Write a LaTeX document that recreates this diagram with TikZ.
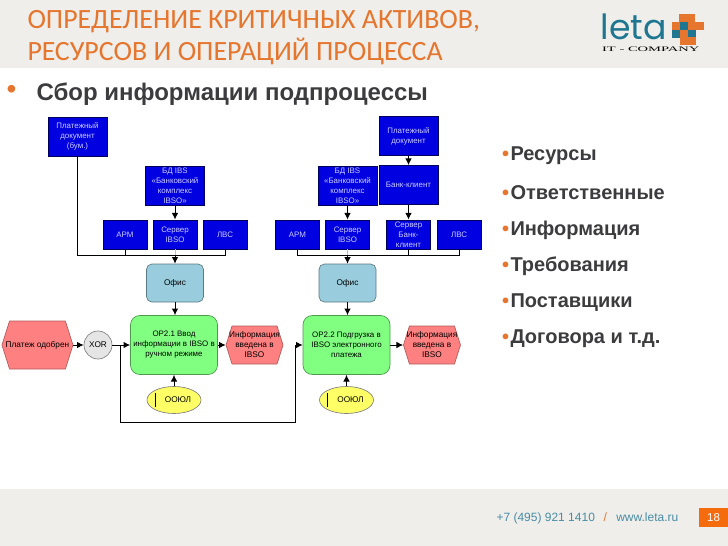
\documentclass[tikz,border=0pt]{standalone}
\usepackage{fontspec}
\setmainfont{Liberation Sans}
\newfontfamily\titlefont{Carlito}
\newfontfamily\logofont{Poppins}
\newfontfamily\tagfont{Liberation Serif}
\usepackage{xcolor}
\usetikzlibrary{arrows.meta}
\usetikzlibrary{shapes.geometric}
\usetikzlibrary{shapes.symbols}
\usetikzlibrary{positioning}
\definecolor{bandgray}{RGB}{239,238,234}
\definecolor{titleorange}{RGB}{230,117,45}
\definecolor{darktext}{RGB}{60,60,62}
\definecolor{letateal}{RGB}{30,118,145}
\definecolor{foottext}{RGB}{72,140,165}
\definecolor{pageorange}{RGB}{245,108,15}
\definecolor{blockblue}{RGB}{0,0,225}
\definecolor{blockline}{RGB}{0,0,90}
\definecolor{blocktext}{RGB}{205,205,255}
\definecolor{sitefill}{RGB}{153,204,221}
\definecolor{funcfill}{RGB}{128,255,128}
\definecolor{evtfill}{RGB}{255,128,128}
\definecolor{rolefill}{RGB}{255,255,102}
\newcommand{\dgfont}{\fontsize{6.2}{7.5}\selectfont}
\newcommand{\boxfont}{\fontsize{5.95}{7.5}\selectfont}
\newcommand{\itemdot}{\textcolor{titleorange}{•}\kern 1.1pt}

\begin{document}
\begin{tikzpicture}[x=0.75pt, y=-0.75pt, thick]
    % Define styles
    \tikzstyle{block} = [rectangle, draw=blockline, fill=blockblue, text=blocktext, font=\boxfont, align=center, inner sep=0pt, line width=0.6pt]
    \tikzstyle{docbox} = [block, minimum width=44.25pt, minimum height=29.25pt]
    \tikzstyle{itbox} = [block, minimum width=33pt, minimum height=21.75pt]
    \tikzstyle{site} = [rectangle, rounded corners=4pt, draw=sitefill!60!black, fill=sitefill, font=\dgfont, align=center, minimum width=42.75pt, minimum height=28.5pt, inner sep=0pt, line width=0.5pt]
    \tikzstyle{func} = [rectangle, rounded corners=7pt, draw=funcfill!60!black, fill=funcfill, font=\boxfont, align=center, minimum width=65.25pt, minimum height=44.25pt, inner sep=0pt, line width=0.5pt]
    \tikzstyle{evt} = [signal, signal to=west and east, signal pointer angle=145, draw=evtfill!70!black, fill=evtfill, inner sep=0pt, line width=0.5pt]
    \tikzstyle{evttext} = [font=\dgfont, align=center, inner sep=0pt]
    \tikzstyle{gate} = [circle, draw=gray, fill=black!10, font=\dgfont, minimum size=21pt, inner sep=0pt, line width=0.5pt]
    \tikzstyle{role} = [ellipse, draw=gray, fill=rolefill, font=\dgfont, minimum width=40.5pt, minimum height=20.25pt, inner sep=0pt, line width=0.5pt]
    \tikzstyle{line} = [draw, line width=0.75pt, -{Latex[length=5pt,width=5pt]}]
    \tikzstyle{wire} = [draw, line width=0.75pt]
    \tikzstyle{listitem} = [anchor=west, font=\fontsize{15}{18}\selectfont\bfseries, text=darktext, inner sep=0pt]

    \useasboundingbox (0,0) rectangle (728,546);

    % Header and footer
    \fill[bandgray] (0,0) rectangle (728,68);
    \fill[bandgray] (0,489) rectangle (728,546);
    \node [anchor=west, inner sep=0pt, text=titleorange, font=\titlefont\fontsize{20.9}{24}\selectfont, align=left] (title) at (27,38) {ОПРЕДЕЛЕНИЕ КРИТИЧНЫХ АКТИВОВ,\\РЕСУРСОВ И ОПЕРАЦИЙ ПРОЦЕССА};
    \node [anchor=west, inner sep=0pt, text=titleorange, font=\fontsize{21}{24}\selectfont] (dot) at (6,92) {•};
    \node [anchor=west, inner sep=0pt, text=darktext, font=\fontsize{18}{20}\selectfont\bfseries] (head) at (36,94) {Сбор информации подпроцессы};

    % Logo
    \node [anchor=west, inner sep=0pt, text=letateal, font=\logofont\fontsize{26}{26}\selectfont] (leta) at (600,27) {leta};
    \node [anchor=west, inner sep=0pt, font=\tagfont\fontsize{5.2}{6}\selectfont, xscale=2.1, transform shape] (tag) at (601,49) {IT - COMPANY};
    \foreach \cx/\cy/\col in {683/18/titleorange, 691/18/titleorange, 676/26/titleorange, 684/26/letateal, 692/26/titleorange, 700/26/titleorange, 676/34/letateal, 684/34/titleorange, 692/34/letateal, 684/41/titleorange, 692/41/titleorange}
        \fill[\col] (\cx-3.7,\cy-3.7) rectangle (\cx+3.7,\cy+3.7);

    % Place nodes
    \node [func] (op1) at (174,345) {ОР2.1 Ввод\\информации в IBSO в\\ручном режиме};
    \node [evt, minimum width=53.25pt, minimum height=36pt, left of=op1, node distance=102.4pt, label={[evttext]center:Платеж одобрен}] (paid) {};
    \node [gate, left of=op1, node distance=57pt] (xor) {XOR};
    \node [evt, minimum width=42.75pt, minimum height=28.5pt, right of=op1, node distance=60.4pt, label={[evttext]center:Информация\\введена в\\IBSO}] (info1) {};
    \node [role, below of=op1, node distance=41.25pt] (clerk1) {\hspace*{6pt}ООЮЛ};
    \node [site, above of=op1, node distance=46.5pt, xshift=0.75pt] (office1) {Офис};
    \node [itbox, above of=office1, node distance=36.4pt] (server1) {Сервер\\IBSO};
    \node [itbox, left of=server1, node distance=37.5pt] (arm1) {АРМ};
    \node [itbox, right of=server1, node distance=37.5pt] (lan1) {ЛВС};
    \node [docbox, above of=server1, node distance=36.75pt] (db1) {БД IBS\\«Банковский\\комплекс\\IBSO»};
    \node [docbox] (doc1) at (77.5,136.5) {Платежный\\документ\\(бум.)};

    \node [func] (op2) at (346.5,345) {ОР2.2 Подгрузка в\\IBSO электронного\\платежа};
    \node [evt, minimum width=42.75pt, minimum height=28.5pt, right of=op2, node distance=64.1pt, label={[evttext]center:Информация\\введена в\\IBSO}] (info2) {};
    \node [role, below of=op2, node distance=41.25pt] (clerk2) {\hspace*{6pt}ООЮЛ};
    \node [site, above of=op2, node distance=46.5pt, xshift=0.75pt] (office2) {Офис};
    \node [itbox, above of=office2, node distance=36.4pt] (server2) {Сервер\\IBSO};
    \node [itbox, left of=server2, node distance=37.5pt] (arm2) {АРМ};
    \node [itbox, right of=server2, node distance=45.75pt] (srvbank) {Сервер\\Банк-\\клиент};
    \node [itbox, right of=srvbank, node distance=37.9pt] (lan2) {ЛВС};
    \node [docbox, above of=server2, node distance=36.75pt] (db2) {БД IBS\\«Банковский\\комплекс\\IBSO»};
    \node [docbox, above of=srvbank, node distance=37.1pt] (bank) {Банк-клиент};
    \node [docbox, above of=bank, node distance=36.75pt] (doc2) {Платежный\\документ};

    % Junctions
    \coordinate [below of=server1, node distance=16.1pt] (bus1);
    \coordinate [below of=server2, node distance=16.1pt] (bus2);
    \coordinate (back1) at (120,422);
    \coordinate (back2) at (295,422);

    % Side list
    \node [listitem] (res) at (501.5,156) {\itemdot Ресурсы};
    \node [listitem] (own) at (501.5,193) {\itemdot Ответственные};
    \node [listitem] (inf) at (501.5,230) {\itemdot Информация};
    \node [listitem] (req) at (501.5,266) {\itemdot Требования};
    \node [listitem] (sup) at (501.5,303) {\itemdot Поставщики};
    \node [listitem] (con) at (501.5,339) {\itemdot Договора и т.д.};

    % Footer text
    \node [anchor=west, inner sep=0pt, font=\fontsize{9}{10}\selectfont, text=foottext] (phone) at (496,518.5) {+7 (495) 921 1410\hspace{6.5pt}\textcolor{titleorange}{/}\hspace{7pt}www.leta.ru};
    \node [rectangle, fill=pageorange, text=white, font=\fontsize{8.6}{10}\selectfont, minimum width=21.75pt, minimum height=14.25pt, inner sep=0pt] (page) at (713.5,517.5) {18};

    % Draw edges
    \draw [black!25, line width=0.75pt] (server1) -- (bus1);
    \draw [black!25, line width=0.75pt] (server2) -- (bus2);
    \path [wire] (doc1) |- (bus1);
    \path [wire] (arm1) |- (bus1);
    \path [wire] (lan1) |- (bus1);
    \path [wire] (arm2) |- (bus2);
    \path [wire] (lan2) |- (bus2);
    \path [wire] (srvbank) -- (bus2 -| srvbank);
    \path [line] (db1) -- (server1);
    \path [line] (bus1) -- (office1);
    \path [line] (office1) -- (office1 |- op1.north);
    \path [line] (db2) -- (server2);
    \path [line] (bus2) -- (office2);
    \path [line] (office2) -- (office2 |- op2.north);
    \path [line] (doc2) -- (bank);
    \path [line] (bank) -- (srvbank);
    \path [line] (paid) -- (xor);
    \path [line] (xor) -- (op1);
    \path [line] (op1) -- (info1);
    \path [line] (op2) -- (info2);
    \path [line] (clerk1) -- (op1);
    \path [line] (clerk2) -- (op2);
    \path [line] (xor.east) -| (back1) -- (back2) |- (op2.west);
    \draw [line width=0.75pt] ([xshift=-14.25pt,yshift=5.25pt]clerk1.center) -- ([xshift=-14.25pt,yshift=-5.25pt]clerk1.center);
    \draw [line width=0.75pt] ([xshift=-14.25pt,yshift=5.25pt]clerk2.center) -- ([xshift=-14.25pt,yshift=-5.25pt]clerk2.center);
\end{tikzpicture}
\end{document}
